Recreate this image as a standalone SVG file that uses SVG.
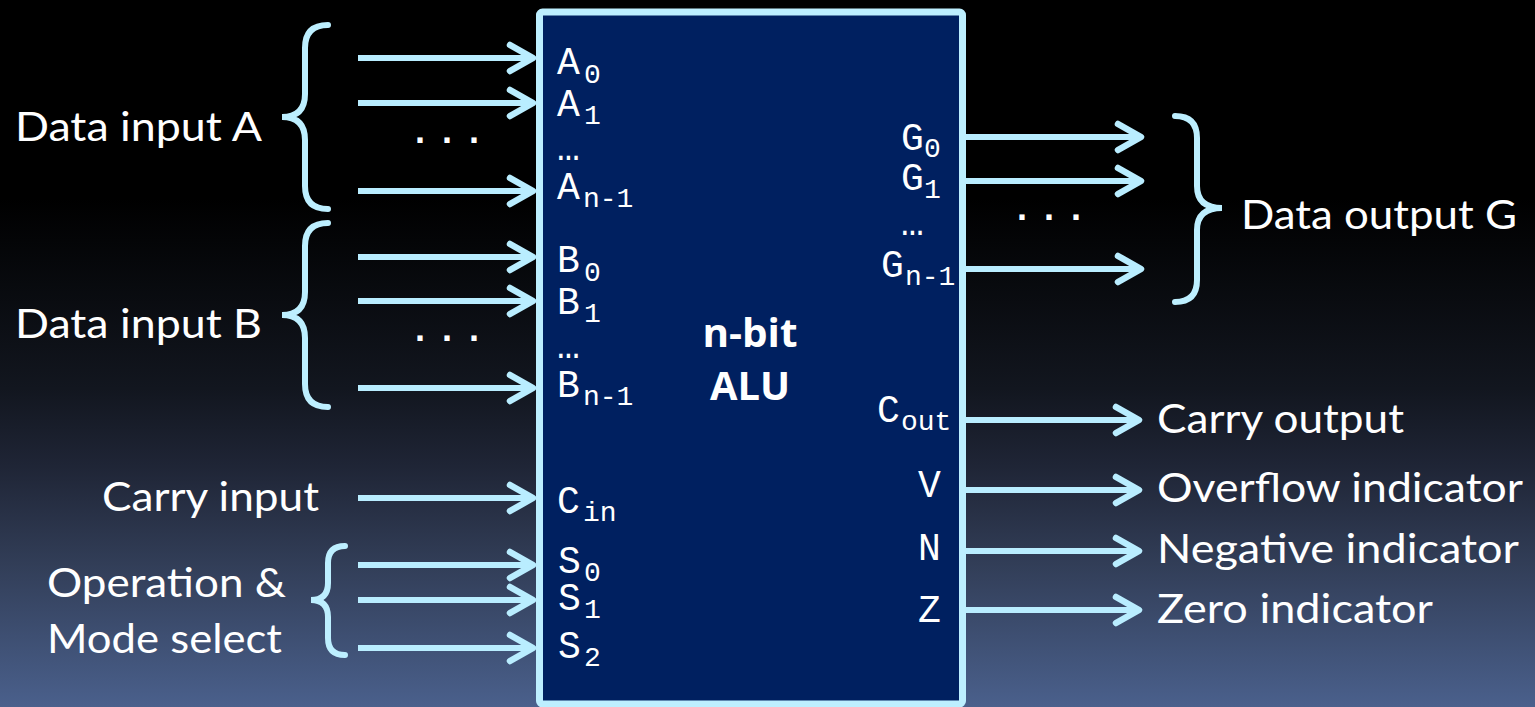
<svg xmlns="http://www.w3.org/2000/svg" width="1535" height="707" viewBox="0 0 1535 707">
<defs>
<linearGradient id="bg" x1="0" y1="0" x2="0" y2="707" gradientUnits="userSpaceOnUse">
<stop offset="0" stop-color="#000000"/>
<stop offset="0.28" stop-color="#000000"/>
<stop offset="0.55" stop-color="#12161f"/>
<stop offset="0.66" stop-color="#1f2536"/>
<stop offset="0.8" stop-color="#323e58"/>
<stop offset="1" stop-color="#4a608c"/>
</linearGradient>
<marker id="chev" markerUnits="userSpaceOnUse" markerWidth="40" markerHeight="40" viewBox="-30 -20 40 40" refX="0" refY="0" orient="auto" overflow="visible">
<path d="M -23 -13 L 0 0 L -23 13" fill="none" stroke="#b9edff" stroke-width="6.5" stroke-linecap="round" stroke-linejoin="round"/>
</marker>
<style>
.wire{stroke:#b9edff;stroke-width:6;fill:none;marker-end:url(#chev)}
.brace{stroke:#bdefff;stroke-width:6;fill:none;stroke-linecap:round}
.lbl{font-family:Lato,"Open Sans","Liberation Sans",sans-serif;font-size:40px;fill:#ffffff}
.pin{font-family:"Liberation Mono","Courier New",monospace;font-size:38px;fill:#ffffff}
.sub{font-size:28px}
.dots{font-family:"Liberation Sans",sans-serif;font-weight:bold;font-size:36px;fill:#ffffff}
.title{font-family:"Open Sans","Liberation Sans",sans-serif;font-weight:bold;font-size:39px;fill:#ffffff}
</style>
</defs>
<rect x="0" y="0" width="1535" height="707" fill="url(#bg)"/>

<g id="alu">
<rect x="539.5" y="12" width="423" height="692" rx="3" fill="#002060" stroke="#bdefff" stroke-width="7"/>
<text class="title" x="750" y="347" text-anchor="middle" textLength="95" lengthAdjust="spacingAndGlyphs">n-bit</text>
<text class="title" x="750" y="400" text-anchor="middle" textLength="80" lengthAdjust="spacingAndGlyphs">ALU</text>
<g id="pins-in">
<text class="pin" x="557" y="74">A<tspan class="sub" x="584" y="83">0</tspan></text>
<text class="pin" x="557" y="116">A<tspan class="sub" x="584" y="124">1</tspan></text>
<text class="pin" x="557" y="160">…</text>
<text class="pin" x="557" y="199">A<tspan class="sub" x="583" y="207">n-1</tspan></text>
<text class="pin" x="557" y="272">B<tspan class="sub" x="584" y="281">0</tspan></text>
<text class="pin" x="557" y="314">B<tspan class="sub" x="584" y="322">1</tspan></text>
<text class="pin" x="557" y="358">…</text>
<text class="pin" x="557" y="397">B<tspan class="sub" x="583" y="405">n-1</tspan></text>
<text class="pin" x="557" y="513">C<tspan class="sub" x="583" y="521">in</tspan></text>
<text class="pin" x="558" y="573">S<tspan class="sub" x="584" y="581">0</tspan></text>
<text class="pin" x="558" y="610">S<tspan class="sub" x="584" y="618">1</tspan></text>
<text class="pin" x="558" y="658">S<tspan class="sub" x="584" y="666">2</tspan></text>
</g>
<g id="pins-out">
<text class="pin" x="901" y="150">G<tspan class="sub" x="924" y="157">0</tspan></text>
<text class="pin" x="901" y="190">G<tspan class="sub" x="924" y="198">1</tspan></text>
<text class="pin" x="901" y="235">…</text>
<text class="pin" x="881" y="277">G<tspan class="sub" x="905" y="285">n-1</tspan></text>
<text class="pin" x="877" y="422">C<tspan class="sub" x="901" y="430">out</tspan></text>
<text class="pin" x="918" y="497">V</text>
<text class="pin" x="918" y="560">N</text>
<text class="pin" x="918" y="622">Z</text>
</g>
</g>

<g id="in-a">
<path class="brace" d="M 328 25 Q 305 25 305 48 L 305 94 Q 305 117 282 117 Q 305 117 305 140 L 305 186 Q 305 209 328 209"/>
<text class="lbl" x="15" y="141" textLength="247" lengthAdjust="spacingAndGlyphs">Data input A</text>
<text class="dots" x="415 442 469" y="143">...</text>
</g>
<g id="in-b">
<path class="brace" d="M 328 223 Q 305 223 305 246 L 305 292 Q 305 315 282 315 Q 305 315 305 338 L 305 384 Q 305 407 328 407"/>
<text class="lbl" x="15" y="338" textLength="247" lengthAdjust="spacingAndGlyphs">Data input B</text>
<text class="dots" x="415 442 469" y="341">...</text>
</g>
<g id="in-carry">
<text class="lbl" x="102" y="511" textLength="217" lengthAdjust="spacingAndGlyphs">Carry input</text>
</g>
<g id="in-select">
<path class="brace" d="M 345 546 Q 328 546 328 563 L 328 583 Q 328 600 311 600 Q 328 600 328 617 L 328 638 Q 328 655 345 655"/>
<text class="lbl" x="47" y="597" textLength="239" lengthAdjust="spacingAndGlyphs">Operation &amp;</text>
<text class="lbl" x="47" y="653" textLength="235" lengthAdjust="spacingAndGlyphs">Mode select</text>
</g>
<g id="out-g">
<path class="brace" d="M 1175 116 Q 1197 116 1197 138 L 1197 186 Q 1197 208 1222 208 Q 1197 208 1197 230 L 1197 280 Q 1197 302 1175 302"/>
<text class="lbl" x="1241" y="229" textLength="276" lengthAdjust="spacingAndGlyphs">Data output G</text>
<text class="dots" x="1017 1044 1071" y="220">...</text>
</g>
<g id="out-carry"><text class="lbl" x="1157" y="433" textLength="247" lengthAdjust="spacingAndGlyphs">Carry output</text></g>
<g id="out-v"><text class="lbl" x="1157" y="502" textLength="366" lengthAdjust="spacingAndGlyphs">Overflow indicator</text></g>
<g id="out-n"><text class="lbl" x="1157" y="563" textLength="362" lengthAdjust="spacingAndGlyphs">Negative indicator</text></g>
<g id="out-z"><text class="lbl" x="1157" y="623" textLength="276" lengthAdjust="spacingAndGlyphs">Zero indicator</text></g>

<g id="connectors">
<line class="wire" x1="358" y1="58" x2="533" y2="58"/>
<line class="wire" x1="358" y1="103" x2="533" y2="103"/>
<line class="wire" x1="358" y1="191" x2="533" y2="191"/>
<line class="wire" x1="358" y1="257" x2="533" y2="257"/>
<line class="wire" x1="358" y1="301" x2="533" y2="301"/>
<line class="wire" x1="358" y1="388" x2="533" y2="388"/>
<line class="wire" x1="358" y1="498" x2="533" y2="498"/>
<line class="wire" x1="358" y1="565" x2="533" y2="565"/>
<line class="wire" x1="358" y1="600" x2="533" y2="600"/>
<line class="wire" x1="358" y1="648" x2="533" y2="648"/>
<line class="wire" x1="966" y1="137" x2="1141" y2="137"/>
<line class="wire" x1="966" y1="181" x2="1141" y2="181"/>
<line class="wire" x1="966" y1="269" x2="1141" y2="269"/>
<line class="wire" x1="966" y1="420" x2="1139" y2="420"/>
<line class="wire" x1="966" y1="490" x2="1139" y2="490"/>
<line class="wire" x1="966" y1="551" x2="1139" y2="551"/>
<line class="wire" x1="966" y1="610" x2="1139" y2="610"/>
</g>
</svg>
